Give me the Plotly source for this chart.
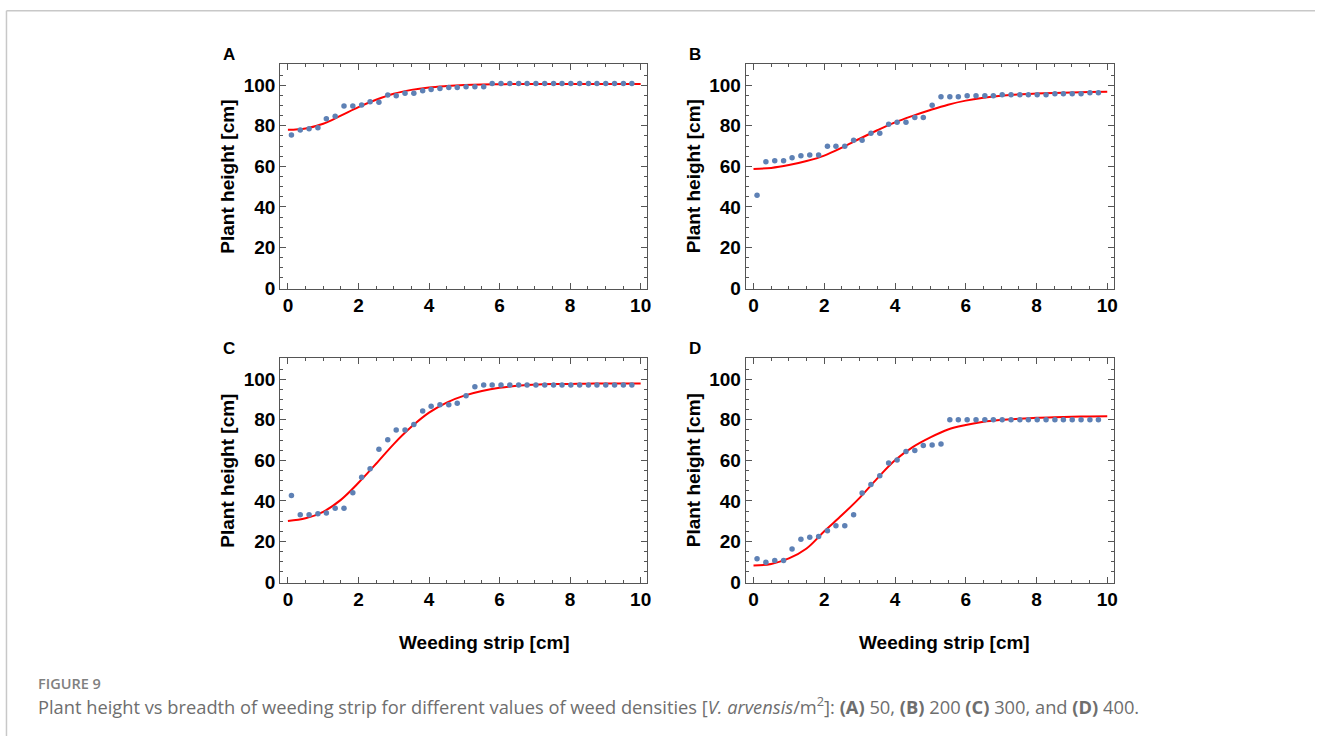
import plotly.graph_objects as go

# ---- data -------------------------------------------------------------
# weeding-strip breadth of the measured points [cm]
X_PTS = [0.10, 0.35, 0.60, 0.85, 1.09, 1.34, 1.59, 1.84, 2.09, 2.33,
         2.58, 2.83, 3.07, 3.32, 3.57, 3.82, 4.06, 4.31, 4.56, 4.80,
         5.05, 5.30, 5.55, 5.79, 6.04, 6.29, 6.54, 6.78, 7.03, 7.28,
         7.53, 7.77, 8.02, 8.27, 8.52, 8.76, 9.01, 9.26, 9.51, 9.75]

# measured plant height [cm], one list per weed density
H_A = [75.5, 77.9, 78.5, 79.0, 83.4, 84.7, 89.8, 89.8, 90.3, 91.9,
       91.6, 95.2, 94.8, 96.0, 96.0, 97.3, 97.9, 98.4, 98.9, 98.9,
       99.2, 99.2, 99.2, 100.8, 100.8, 100.8, 100.8, 100.8, 100.8, 100.8,
       100.8, 100.8, 100.8, 100.8, 100.8, 100.8, 100.8, 100.8, 100.8, 100.8]
H_B = [45.7, 62.2, 62.7, 62.7, 64.2, 65.2, 65.6, 65.6, 69.9, 69.9,
       69.9, 72.8, 72.8, 76.3, 76.3, 80.7, 81.7, 81.7, 84.1, 84.1,
       90.1, 94.3, 94.3, 94.3, 94.8, 94.8, 94.8, 94.8, 95.3, 95.3,
       95.3, 95.3, 95.3, 95.3, 95.8, 95.8, 95.8, 95.8, 96.3, 96.3]
H_C = [42.6, 33.2, 33.2, 33.7, 34.0, 36.4, 36.4, 44.0, 51.6, 55.8,
       65.4, 70.2, 74.9, 74.9, 77.7, 84.3, 86.7, 87.4, 87.4, 88.2,
       91.9, 96.3, 97.1, 97.1, 97.1, 97.1, 97.1, 97.1, 97.1, 97.1,
       97.1, 97.1, 97.1, 97.1, 97.1, 97.1, 97.1, 97.1, 97.1, 97.1]
H_D = [11.5, 9.7, 10.6, 10.6, 16.3, 21.1, 22.1, 22.4, 25.3, 27.7,
       27.7, 33.1, 43.9, 48.1, 52.4, 58.7, 60.2, 64.4, 64.8, 67.3,
       67.6, 68.1, 80.0, 80.0, 80.0, 80.0, 80.0, 80.0, 80.0, 80.0,
       80.0, 80.0, 80.0, 80.0, 80.0, 80.0, 80.0, 80.0, 80.0, 80.0]

# fitted curves, sampled every 0.5 cm
X_FIT = [0.0, 0.5, 1.0, 1.5, 2.0, 2.5, 3.0, 3.5, 4.0, 4.5, 5.0,
         5.5, 6.0, 6.5, 7.0, 7.5, 8.0, 8.5, 9.0, 9.5, 10.0]
FIT_A = [78.0, 78.7, 81.0, 85.0, 89.2, 92.8, 95.8, 97.7, 98.9, 99.6, 100.1,
         100.4, 100.5, 100.6, 100.6, 100.6, 100.6, 100.6, 100.6, 100.6, 100.6]
FIT_B = [58.7, 59.2, 60.6, 62.6, 65.3, 69.2, 73.6, 77.8, 81.7, 84.9, 87.8,
         90.4, 92.4, 93.8, 94.8, 95.5, 95.9, 96.2, 96.4, 96.6, 96.8]
FIT_C = [30.1, 31.4, 34.6, 40.5, 48.9, 58.3, 68.0, 76.5, 83.5, 88.5, 91.9,
         94.2, 95.8, 96.8, 97.3, 97.6, 97.7, 97.8, 97.9, 97.9, 97.9]
FIT_D = [8.1, 8.9, 11.6, 16.5, 25.0, 33.0, 41.5, 51.1, 60.0, 66.5, 71.3,
         75.2, 77.4, 79.0, 79.9, 80.5, 81.0, 81.3, 81.5, 81.6, 81.7]

PANEL_LABELS = ["A", "B", "C", "D"]
X_TICKS = [0, 2, 4, 6, 8, 10]
Y_TICKS = [0, 20, 40, 60, 80, 100]

# ---- figure -----------------------------------------------------------
W, H = 1319, 746
BLUE = "#5E81B5"
FRAME = "#555555"
SANS = "Liberation Sans, Arial, sans-serif"
AX_FONT = dict(family=SANS, size=19, color="black", weight="bold")

# frame boxes in pixels: (left, right, top, bottom)
boxes = [(281, 649, 65, 292.5), (748, 1117, 65, 292.5),
         (281, 649, 363, 590.5), (748, 1117, 363, 590.5)]

heights = [H_A, H_B, H_C, H_D]
fits = [FIT_A, FIT_B, FIT_C, FIT_D]

fig = go.Figure()
layout = {}
annotations = []

for i in range(4):
    suf = "" if i == 0 else str(i + 1)
    l, r, t, b = boxes[i]
    fig.add_trace(go.Scatter(
        x=X_FIT, y=fits[i], mode="lines",
        line=dict(color="red", width=2, shape="spline", smoothing=1),
        xaxis="x" + suf, yaxis="y" + suf, showlegend=False, hoverinfo="skip"))
    fig.add_trace(go.Scatter(
        x=X_PTS, y=heights[i], mode="markers",
        marker=dict(color=BLUE, size=5.5),
        xaxis="x" + suf, yaxis="y" + suf, showlegend=False))

    common = dict(showline=True, linecolor=FRAME, linewidth=1,
                  mirror="allticks", ticks="inside", tickcolor=FRAME,
                  tickwidth=1, ticklen=6, showgrid=False, zeroline=False,
                  tickfont=AX_FONT)
    layout["xaxis" + suf] = dict(
        common, domain=[l / W, r / W], anchor="y" + suf,
        range=[-0.22, 10.18], tickvals=X_TICKS,
        minor=dict(ticks="inside", ticklen=3, tickcolor=FRAME,
                   dtick=0.5, tick0=0, showgrid=False))
    layout["yaxis" + suf] = dict(
        common, domain=[1 - b / H, 1 - t / H], anchor="x" + suf,
        range=[-0.3, 110.4], tickvals=Y_TICKS,
        minor=dict(ticks="inside", ticklen=3, tickcolor=FRAME,
                   dtick=5, tick0=0, showgrid=False))

    # panel letter
    annotations.append(dict(
        text="<b>%s</b>" % PANEL_LABELS[i], x=(l - 51) / W, y=1 - (t - 10) / H,
        xref="paper", yref="paper", showarrow=False,
        font=dict(family=SANS, size=17, color="black"),
        xanchor="center", yanchor="middle"))
    # y-axis title
    annotations.append(dict(
        text="<b>Plant height [cm]</b>", x=(l - 53) / W, y=1 - (t + b) / 2 / H,
        xref="paper", yref="paper", showarrow=False, textangle=-90,
        font=dict(family=SANS, size=19, color="black"),
        xanchor="center", yanchor="middle"))

# x-axis titles under the bottom row
for cx in (486, 947):
    annotations.append(dict(
        text="<b>Weeding strip [cm]</b>", x=cx / W, y=1 - 651 / H,
        xref="paper", yref="paper", showarrow=False,
        font=dict(family=SANS, size=19, color="black"),
        xanchor="center", yanchor="middle"))

# caption
annotations.append(dict(
    text="FIGURE 9", x=36 / W, y=1 - 693 / H, xref="paper", yref="paper",
    showarrow=False, xanchor="left", yanchor="middle",
    font=dict(family="Open Sans, sans-serif", size=14.5,
              color="#808080", weight=600)))
annotations.append(dict(
    text=("Plant height vs breadth of weeding strip for different values of "
          "weed densities [<i>V. arvensis</i>/m<sup>2</sup>]: <b>(A)</b> 50, "
          "<b>(B)</b> 200 <b>(C)</b> 300, and <b>(D)</b> 400."),
    x=36 / W, y=1 - 715 / H, xref="paper", yref="paper",
    showarrow=False, xanchor="left", yanchor="middle",
    font=dict(family="Open Sans, sans-serif", size=18.3, color="#6e6e6e")))

# page border lines
shapes = [
    dict(type="line", xref="paper", yref="paper", x0=6.5 / W, x1=1,
         y0=1 - 11 / H, y1=1 - 11 / H, line=dict(color="#c8c8c8", width=1.5)),
    dict(type="line", xref="paper", yref="paper", x0=6.5 / W, x1=6.5 / W,
         y0=1 - 11 / H, y1=0, line=dict(color="#c8c8c8", width=1.5)),
]

fig.update_layout(
    width=W, height=H, margin=dict(l=0, r=0, t=0, b=0),
    paper_bgcolor="white", plot_bgcolor="white",
    annotations=annotations, shapes=shapes, **layout)

fig.write_html("out.html")
